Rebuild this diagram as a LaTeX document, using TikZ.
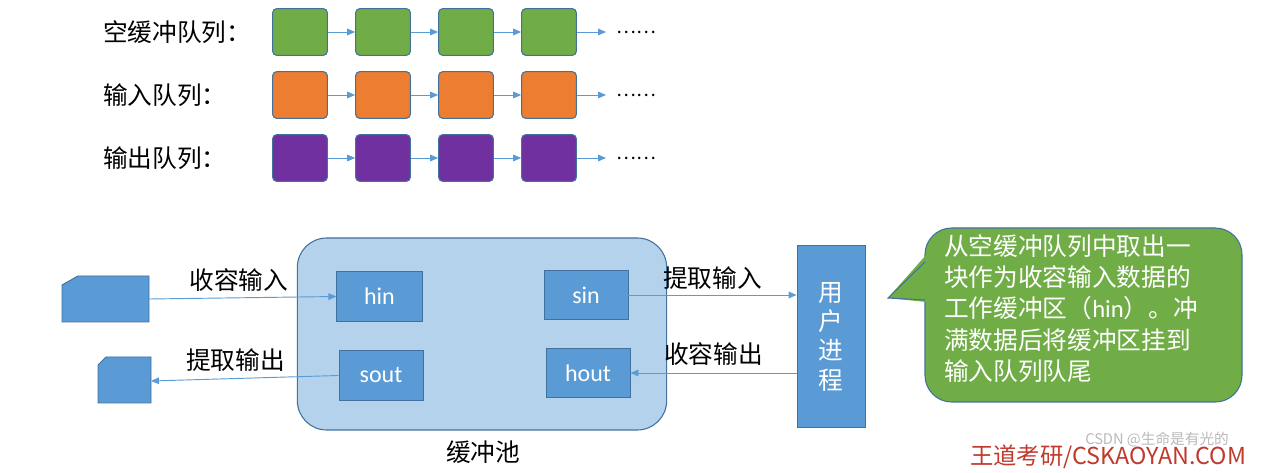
\documentclass[tikz,border=0pt]{standalone}
\usepackage{fontspec}
\setmainfont{Noto Sans CJK SC}
\newfontfamily\lat{Carlito}
\usetikzlibrary{arrows.meta}
\definecolor{cg}{HTML}{70AD47}
\definecolor{co}{HTML}{ED7D31}
\definecolor{cp}{HTML}{7030A0}
\definecolor{cb}{HTML}{5B9BD5}
\definecolor{cbd}{HTML}{41719C}
\definecolor{cpool}{HTML}{B4D2EB}
\definecolor{cred}{HTML}{C0392B}
\begin{document}
\begin{tikzpicture}[x=0.75pt,y=-0.75pt,
  qb/.style={draw=cbd,rounded corners=3pt,line width=0.8pt,minimum width=41pt,minimum height=35pt,inner sep=0pt},
  ar/.style={draw=cb,line width=0.7pt,-{Triangle[length=6pt,width=5pt]}},
  lbl/.style={font=\fontsize{18.5}{20}\selectfont,inner sep=0pt},
  bx/.style={draw=cbd,fill=cb,line width=0.7pt,inner sep=0pt,text=white,font=\lat\fontsize{18}{20}\selectfont}]
\useasboundingbox (0,0) rectangle (1281,473);
% queues
\foreach \r/\y/\c/\t in {1/32/cg/空缓冲队列：,2/95/co/输入队列：,3/158/cp/输出队列：}{
  \node[lbl,anchor=west] (l\r) at (103,\y) {\t};
  \foreach \i/\x in {1/300,2/383,3/466,4/549}{
    \node[qb,fill=\c] (q\r\i) at (\x,\y) {};
  }
  \draw[ar] (q\r1) -- (q\r2);
  \draw[ar] (q\r2) -- (q\r3);
  \draw[ar] (q\r3) -- (q\r4);
  \coordinate (e\r) at (606,\y);
  \draw[ar] (q\r4) -- (e\r);
  \node[lbl,anchor=west,font=\fontsize{14}{16}\selectfont] (d\r) at (616,\y) {……};
}
% pool
\node[draw=cbd,fill=cpool,line width=0.8pt,rounded corners=22pt,minimum width=277pt,minimum height=144pt,inner sep=0pt] (pool) at (482,334) {};
\node[lbl] (pl) at (483,452) {缓冲池};
\node[bx,minimum width=64pt,minimum height=37pt] (hin) at (379.5,296.5) {hin};
\node[bx,minimum width=63pt,minimum height=37pt] (sin) at (586,295) {sin};
\node[bx,minimum width=63pt,minimum height=37pt] (sout) at (381,375.5) {sout};
\node[bx,minimum width=63pt,minimum height=37pt] (hout) at (588,373) {hout};
\node[draw=cbd,fill=cb,line width=0.7pt,minimum width=51pt,minimum height=137pt,inner sep=0pt,text=white,font=\fontsize{18.5}{22}\selectfont,align=center] (user) at (831,336.5) {用\\户\\进\\程};
% cards
\draw[draw=cbd,fill=cb,line width=0.7pt] (62,285) -- (78,276) -- (149,276) -- (149,322) -- (62,322) -- cycle;
\coordinate (c1) at (149,299);
\draw[draw=cbd,fill=cb,line width=0.7pt] (98,365) -- (106,357) -- (151,357) -- (151,403) -- (98,403) -- cycle;
\coordinate (c2) at (151,381);
\draw[ar] (c1) -- (hin.west) node[lbl,pos=0.48,above=4pt] {收容输入};
\draw[ar] (sout.west) -- (c2) node[lbl,pos=0.55,above=5pt] {提取输出};
\draw[ar] (sin.east) -- (user.west |- sin.east) node[lbl,midway,above=4pt] {提取输入};
\draw[ar] (user.west |- hout.east) -- (hout.east) node[lbl,midway,above=5pt] {收容输出};
% callout
\draw[draw=cbd,fill=cg,line width=0.8pt,rounded corners=20pt] (925,300) -- (925,402) -- (1242,402) -- (1242,228) -- (925,228) -- (925,262);
\fill[cg] (926,255) -- (888,298) -- (926,302) -- cycle;
\draw[cbd,line width=0.8pt] (925,262) -- (888,298) -- (925,300);
\node[anchor=north west,inner sep=0pt,text=white,font=\fontsize{18.5}{23.5}\selectfont,align=left] (ct) at (944,234) {从空缓冲队列中取出一\\块作为收容输入数据的\\工作缓冲区（{\lat hin}）。冲\\满数据后将缓冲区挂到\\输入队列队尾};
\node[anchor=west,inner sep=0pt,text=cred,font=\fontsize{17.5}{20}\selectfont] (ft) at (970,457) {王道考研/CSKAOYAN.COM};
\node[anchor=west,inner sep=0pt,text=gray!55,font=\fontsize{11}{13}\selectfont] (wm) at (1085,440) {CSDN @生命是有光的};
\end{tikzpicture}
\end{document}
